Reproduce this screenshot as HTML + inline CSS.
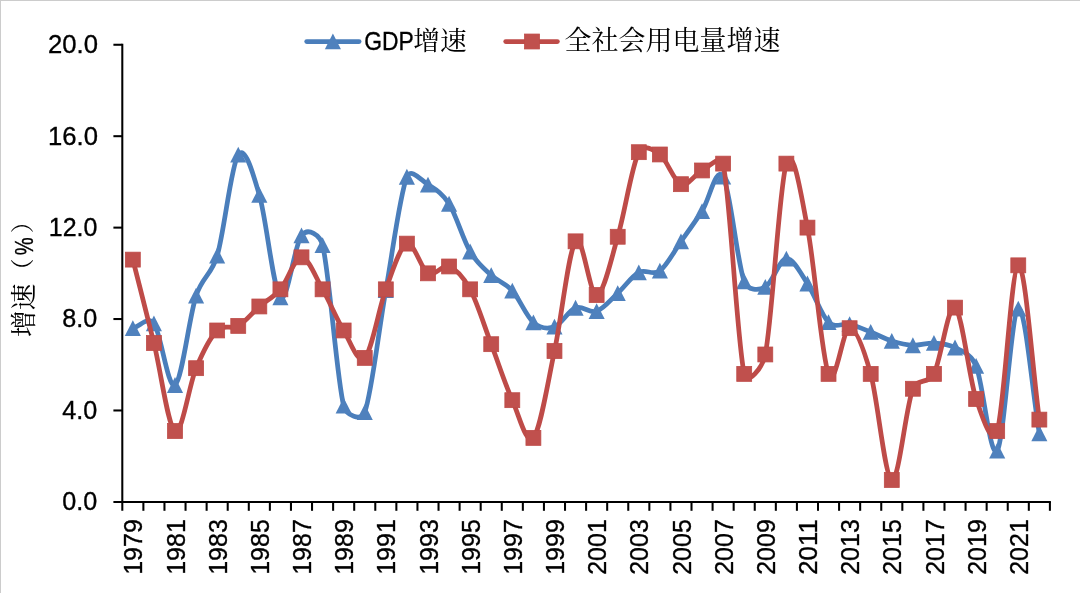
<!DOCTYPE html><html><head><meta charset="utf-8"><title>GDP增速与全社会用电量增速</title>
<style>html,body{margin:0;padding:0;background:#fff;}body{width:1080px;height:593px;overflow:hidden;}svg{display:block;}.lat{font-family:"Liberation Sans","DejaVu Sans",sans-serif;stroke:#000;stroke-width:0.35px;}.cjk{font-family:"Liberation Serif","Noto Serif CJK SC",serif;}</style></head><body>
<svg width="1080" height="593" viewBox="0 0 1080 593">
<rect width="1080" height="593" fill="#fff"/>
<rect x="0" y="0" width="1080" height="1" fill="#ccc"/><rect x="0" y="0" width="1" height="593" fill="#ccc"/>
<g stroke="#000" stroke-width="2.05" fill="none">
<path d="M122.30,43.66 V510.80"/>
<path d="M113.40,502.00 H1050.90"/>
<path d="M113.40,410.47 H122.30"/>
<path d="M113.40,319.04 H122.30"/>
<path d="M113.40,227.62 H122.30"/>
<path d="M113.40,136.19 H122.30"/>
<path d="M113.40,44.76 H122.30"/>
<path d="M143.38,502.00 V510.80"/>
<path d="M164.46,502.00 V510.80"/>
<path d="M185.55,502.00 V510.80"/>
<path d="M206.63,502.00 V510.80"/>
<path d="M227.71,502.00 V510.80"/>
<path d="M248.79,502.00 V510.80"/>
<path d="M269.87,502.00 V510.80"/>
<path d="M290.95,502.00 V510.80"/>
<path d="M312.04,502.00 V510.80"/>
<path d="M333.12,502.00 V510.80"/>
<path d="M354.20,502.00 V510.80"/>
<path d="M375.28,502.00 V510.80"/>
<path d="M396.36,502.00 V510.80"/>
<path d="M417.45,502.00 V510.80"/>
<path d="M438.53,502.00 V510.80"/>
<path d="M459.61,502.00 V510.80"/>
<path d="M480.69,502.00 V510.80"/>
<path d="M501.77,502.00 V510.80"/>
<path d="M522.85,502.00 V510.80"/>
<path d="M543.94,502.00 V510.80"/>
<path d="M565.02,502.00 V510.80"/>
<path d="M586.10,502.00 V510.80"/>
<path d="M607.18,502.00 V510.80"/>
<path d="M628.26,502.00 V510.80"/>
<path d="M649.35,502.00 V510.80"/>
<path d="M670.43,502.00 V510.80"/>
<path d="M691.51,502.00 V510.80"/>
<path d="M712.59,502.00 V510.80"/>
<path d="M733.67,502.00 V510.80"/>
<path d="M754.75,502.00 V510.80"/>
<path d="M775.84,502.00 V510.80"/>
<path d="M796.92,502.00 V510.80"/>
<path d="M818.00,502.00 V510.80"/>
<path d="M839.08,502.00 V510.80"/>
<path d="M860.16,502.00 V510.80"/>
<path d="M881.25,502.00 V510.80"/>
<path d="M902.33,502.00 V510.80"/>
<path d="M923.41,502.00 V510.80"/>
<path d="M944.49,502.00 V510.80"/>
<path d="M965.57,502.00 V510.80"/>
<path d="M986.65,502.00 V510.80"/>
<path d="M1007.74,502.00 V510.80"/>
<path d="M1028.82,502.00 V510.80"/>
<path d="M1049.90,502.00 V510.80"/>
</g>
<text class="lat" x="97.3" y="510.2" font-size="26.2" text-anchor="end" textLength="35.0" lengthAdjust="spacingAndGlyphs">0.0</text>
<text class="lat" x="97.3" y="418.8" font-size="26.2" text-anchor="end" textLength="35.0" lengthAdjust="spacingAndGlyphs">4.0</text>
<text class="lat" x="97.3" y="327.3" font-size="26.2" text-anchor="end" textLength="35.0" lengthAdjust="spacingAndGlyphs">8.0</text>
<text class="lat" x="97.4" y="235.9" font-size="26.2" text-anchor="end" textLength="48.6" lengthAdjust="spacingAndGlyphs">12.0</text>
<text class="lat" x="98.0" y="144.5" font-size="26.2" text-anchor="end" textLength="49.9" lengthAdjust="spacingAndGlyphs">16.0</text>
<text class="lat" x="98.0" y="53.1" font-size="26.2" text-anchor="end" textLength="49.9" lengthAdjust="spacingAndGlyphs">20.0</text>
<text class="lat" transform="translate(142.4,574.8) rotate(-90)" font-size="26.2" textLength="55.6" lengthAdjust="spacingAndGlyphs">1979</text>
<text class="lat" transform="translate(184.6,574.8) rotate(-90)" font-size="26.2" textLength="55.6" lengthAdjust="spacingAndGlyphs">1981</text>
<text class="lat" transform="translate(226.8,574.8) rotate(-90)" font-size="26.2" textLength="55.6" lengthAdjust="spacingAndGlyphs">1983</text>
<text class="lat" transform="translate(268.9,574.8) rotate(-90)" font-size="26.2" textLength="55.6" lengthAdjust="spacingAndGlyphs">1985</text>
<text class="lat" transform="translate(311.1,574.8) rotate(-90)" font-size="26.2" textLength="55.6" lengthAdjust="spacingAndGlyphs">1987</text>
<text class="lat" transform="translate(353.3,574.8) rotate(-90)" font-size="26.2" textLength="55.6" lengthAdjust="spacingAndGlyphs">1989</text>
<text class="lat" transform="translate(395.4,574.8) rotate(-90)" font-size="26.2" textLength="55.6" lengthAdjust="spacingAndGlyphs">1991</text>
<text class="lat" transform="translate(437.6,574.8) rotate(-90)" font-size="26.2" textLength="55.6" lengthAdjust="spacingAndGlyphs">1993</text>
<text class="lat" transform="translate(479.8,574.8) rotate(-90)" font-size="26.2" textLength="55.6" lengthAdjust="spacingAndGlyphs">1995</text>
<text class="lat" transform="translate(521.9,574.8) rotate(-90)" font-size="26.2" textLength="55.6" lengthAdjust="spacingAndGlyphs">1997</text>
<text class="lat" transform="translate(564.1,574.8) rotate(-90)" font-size="26.2" textLength="55.6" lengthAdjust="spacingAndGlyphs">1999</text>
<text class="lat" transform="translate(606.2,574.8) rotate(-90)" font-size="26.2" textLength="55.6" lengthAdjust="spacingAndGlyphs">2001</text>
<text class="lat" transform="translate(648.4,574.8) rotate(-90)" font-size="26.2" textLength="55.6" lengthAdjust="spacingAndGlyphs">2003</text>
<text class="lat" transform="translate(690.6,574.8) rotate(-90)" font-size="26.2" textLength="55.6" lengthAdjust="spacingAndGlyphs">2005</text>
<text class="lat" transform="translate(732.7,574.8) rotate(-90)" font-size="26.2" textLength="55.6" lengthAdjust="spacingAndGlyphs">2007</text>
<text class="lat" transform="translate(774.9,574.8) rotate(-90)" font-size="26.2" textLength="55.6" lengthAdjust="spacingAndGlyphs">2009</text>
<text class="lat" transform="translate(817.1,574.8) rotate(-90)" font-size="26.2" textLength="55.6" lengthAdjust="spacingAndGlyphs">2011</text>
<text class="lat" transform="translate(859.2,574.8) rotate(-90)" font-size="26.2" textLength="55.6" lengthAdjust="spacingAndGlyphs">2013</text>
<text class="lat" transform="translate(901.4,574.8) rotate(-90)" font-size="26.2" textLength="55.6" lengthAdjust="spacingAndGlyphs">2015</text>
<text class="lat" transform="translate(943.6,574.8) rotate(-90)" font-size="26.2" textLength="55.6" lengthAdjust="spacingAndGlyphs">2017</text>
<text class="lat" transform="translate(985.7,574.8) rotate(-90)" font-size="26.2" textLength="55.6" lengthAdjust="spacingAndGlyphs">2019</text>
<text class="lat" transform="translate(1027.9,574.8) rotate(-90)" font-size="26.2" textLength="55.6" lengthAdjust="spacingAndGlyphs">2021</text>
<text class="cjk" transform="translate(33,337.5) rotate(-90)" font-size="26.7"><tspan x="0.5">增速</tspan><tspan x="55.6" dy="-2.0" font-size="23.5">（</tspan><tspan class="lat" font-size="26.2" x="82.2" dy="2.0" textLength="17.9" lengthAdjust="spacingAndGlyphs">%</tspan><tspan x="104.2" dy="-2.0" font-size="23.5">）</tspan></text>
<path d="M132.84,328.19 C139.87,326.59 148.00,315.40 153.92,323.39 C160.95,332.87 167.98,389.71 175.00,385.10 C182.03,380.49 189.06,317.29 196.09,295.73 C202.53,275.95 211.21,275.66 217.17,255.73 C224.20,232.23 231.22,164.84 238.25,154.70 C245.28,144.57 253.41,174.90 259.33,194.93 C266.36,218.70 273.39,290.59 280.41,297.33 C287.44,304.07 294.47,244.07 301.50,235.39 C308.23,227.07 320.01,234.83 322.58,245.22 C329.60,273.60 336.63,377.82 343.66,405.67 C346.15,415.53 361.25,421.85 364.74,412.30 C371.77,393.06 378.80,329.48 385.82,290.24 C392.85,251.01 399.88,194.47 406.90,176.87 C410.74,167.27 420.96,180.15 427.99,184.64 C435.01,189.14 442.08,192.74 449.07,203.84 C456.10,215.01 463.12,239.73 470.15,251.62 C477.18,263.50 484.20,268.64 491.23,275.16 C498.26,281.67 505.29,282.82 512.31,290.70 C519.34,298.59 526.37,316.45 533.40,322.47 C540.42,328.49 547.45,329.25 554.48,326.82 C561.50,324.38 568.53,310.43 575.56,307.84 C582.59,305.25 589.61,313.71 596.64,311.27 C603.67,308.83 610.70,299.69 617.72,293.22 C624.75,286.74 631.78,276.15 638.80,272.42 C645.83,268.68 652.86,275.96 659.89,270.82 C666.91,265.67 673.94,251.50 680.97,241.56 C688.00,231.62 695.02,221.98 702.05,211.16 C709.08,200.34 716.10,164.95 723.13,176.64 C730.16,188.34 737.19,262.93 744.21,281.33 C747.80,290.72 758.27,290.82 765.30,287.04 C772.32,283.27 779.35,259.27 786.38,258.70 C793.40,258.13 800.43,273.03 807.46,283.62 C814.49,294.21 821.51,315.46 828.54,322.24 C835.55,329.01 842.60,322.66 849.62,324.30 C856.65,325.94 863.68,329.29 870.70,332.07 C877.73,334.85 884.76,338.78 891.79,340.99 C898.81,343.20 905.84,344.99 912.87,345.33 C919.90,345.67 926.92,342.66 933.95,343.04 C940.98,343.42 948.00,343.81 955.03,347.62 C962.06,351.42 971.25,354.02 976.11,365.90 C983.14,383.08 990.17,460.22 997.20,450.70 C1004.22,441.18 1011.25,311.62 1018.28,308.76 C1025.30,305.90 1032.33,391.96 1039.36,433.56" fill="none" stroke="#4a7ebb" stroke-width="4.75" stroke-linecap="round" stroke-linejoin="round"/>
<g fill="#4f81bd"><path d="M132.84,320.19 L140.89,335.99 L124.79,335.99 Z"/><path d="M153.92,315.39 L161.97,331.19 L145.87,331.19 Z"/><path d="M175.00,377.10 L183.05,392.90 L166.95,392.90 Z"/><path d="M196.09,287.73 L204.14,303.53 L188.04,303.53 Z"/><path d="M217.17,247.73 L225.22,263.53 L209.12,263.53 Z"/><path d="M238.25,146.70 L246.30,162.50 L230.20,162.50 Z"/><path d="M259.33,186.93 L267.38,202.73 L251.28,202.73 Z"/><path d="M280.41,289.33 L288.46,305.13 L272.36,305.13 Z"/><path d="M301.50,227.39 L309.55,243.19 L293.45,243.19 Z"/><path d="M322.58,237.22 L330.63,253.02 L314.53,253.02 Z"/><path d="M343.66,397.67 L351.71,413.47 L335.61,413.47 Z"/><path d="M364.74,404.30 L372.79,420.10 L356.69,420.10 Z"/><path d="M385.82,282.24 L393.87,298.04 L377.77,298.04 Z"/><path d="M406.90,168.87 L414.95,184.67 L398.85,184.67 Z"/><path d="M427.99,176.64 L436.04,192.44 L419.94,192.44 Z"/><path d="M449.07,195.84 L457.12,211.64 L441.02,211.64 Z"/><path d="M470.15,243.62 L478.20,259.42 L462.10,259.42 Z"/><path d="M491.23,267.16 L499.28,282.96 L483.18,282.96 Z"/><path d="M512.31,282.70 L520.36,298.50 L504.26,298.50 Z"/><path d="M533.40,314.47 L541.45,330.27 L525.35,330.27 Z"/><path d="M554.48,318.82 L562.53,334.62 L546.43,334.62 Z"/><path d="M575.56,299.84 L583.61,315.64 L567.51,315.64 Z"/><path d="M596.64,303.27 L604.69,319.07 L588.59,319.07 Z"/><path d="M617.72,285.22 L625.77,301.02 L609.67,301.02 Z"/><path d="M638.80,264.42 L646.85,280.22 L630.75,280.22 Z"/><path d="M659.89,262.82 L667.94,278.62 L651.84,278.62 Z"/><path d="M680.97,233.56 L689.02,249.36 L672.92,249.36 Z"/><path d="M702.05,203.16 L710.10,218.96 L694.00,218.96 Z"/><path d="M723.13,168.64 L731.18,184.44 L715.08,184.44 Z"/><path d="M744.21,273.33 L752.26,289.13 L736.16,289.13 Z"/><path d="M765.30,279.04 L773.35,294.84 L757.25,294.84 Z"/><path d="M786.38,250.70 L794.43,266.50 L778.33,266.50 Z"/><path d="M807.46,275.62 L815.51,291.42 L799.41,291.42 Z"/><path d="M828.54,314.24 L836.59,330.04 L820.49,330.04 Z"/><path d="M849.62,316.30 L857.67,332.10 L841.57,332.10 Z"/><path d="M870.70,324.07 L878.75,339.87 L862.65,339.87 Z"/><path d="M891.79,332.99 L899.84,348.79 L883.74,348.79 Z"/><path d="M912.87,337.33 L920.92,353.13 L904.82,353.13 Z"/><path d="M933.95,335.04 L942.00,350.84 L925.90,350.84 Z"/><path d="M955.03,339.62 L963.08,355.42 L946.98,355.42 Z"/><path d="M976.11,357.90 L984.16,373.70 L968.06,373.70 Z"/><path d="M997.20,442.70 L1005.25,458.50 L989.15,458.50 Z"/><path d="M1018.28,300.76 L1026.33,316.56 L1010.23,316.56 Z"/><path d="M1039.36,425.56 L1047.41,441.36 L1031.31,441.36 Z"/></g>
<path d="M132.84,259.62 C139.87,287.43 146.90,314.47 153.92,343.04 C160.95,371.62 167.98,426.85 175.00,431.04 C182.03,435.23 189.06,384.95 196.09,368.19 C203.11,351.42 210.14,337.52 217.17,330.47 C224.17,323.45 231.22,329.90 238.25,325.90 C245.28,321.90 252.30,312.57 259.33,306.47 C266.36,300.38 273.39,297.52 280.41,289.33 C287.44,281.14 294.47,257.33 301.50,257.33 C308.52,257.33 315.55,277.14 322.58,289.33 C329.60,301.52 336.63,319.04 343.66,330.47 C350.69,341.90 357.71,364.76 364.74,357.90 C371.77,351.04 378.80,308.38 385.82,289.33 C392.85,270.28 399.88,246.28 406.90,243.62 C413.93,240.95 420.96,269.52 427.99,273.33 C435.01,277.14 442.04,263.81 449.07,266.47 C456.10,269.14 463.33,276.76 470.15,289.33 C477.18,302.28 484.20,325.71 491.23,344.19 C498.26,362.66 505.29,384.57 512.31,400.19 C519.34,415.81 526.37,446.09 533.40,437.90 C540.42,429.71 547.45,383.81 554.48,351.04 C561.50,318.28 568.53,250.66 575.56,241.33 C582.59,232.00 589.61,295.81 596.64,295.04 C603.67,294.28 610.70,260.57 617.72,236.76 C624.75,212.95 631.78,165.90 638.80,152.19 C643.25,143.51 652.86,149.14 659.89,154.47 C666.91,159.81 673.94,181.52 680.97,184.19 C688.00,186.85 695.02,173.90 702.05,170.47 C709.08,167.04 721.06,153.63 723.13,163.62 C730.16,197.52 737.19,342.09 744.21,373.90 C747.06,386.78 762.70,367.40 765.30,354.47 C772.32,319.42 779.35,184.76 786.38,163.62 C793.40,142.47 801.37,197.22 807.46,227.62 C814.49,262.66 821.51,357.14 828.54,373.90 C835.57,390.66 842.60,328.19 849.62,328.19 C856.65,328.19 864.51,351.59 870.70,373.90 C877.73,399.20 884.76,477.48 891.79,479.96 C898.81,482.43 905.84,406.43 912.87,388.76 C917.25,377.73 928.48,384.43 933.95,373.90 C940.98,360.38 948.00,303.43 955.03,307.62 C962.06,311.81 969.09,378.47 976.11,399.04 C981.81,415.72 991.89,447.85 997.20,431.04 C1004.22,408.76 1011.25,267.23 1018.28,265.33 C1025.30,263.43 1032.33,368.19 1039.36,419.61" fill="none" stroke="#be4b48" stroke-width="4.75" stroke-linecap="round" stroke-linejoin="round"/>
<g fill="#c0504d" stroke="#be4b48" stroke-width="0.8"><rect x="125.39" y="252.17" width="14.90" height="14.90"/><rect x="146.47" y="335.59" width="14.90" height="14.90"/><rect x="167.55" y="423.59" width="14.90" height="14.90"/><rect x="188.64" y="360.74" width="14.90" height="14.90"/><rect x="209.72" y="323.02" width="14.90" height="14.90"/><rect x="230.80" y="318.45" width="14.90" height="14.90"/><rect x="251.88" y="299.02" width="14.90" height="14.90"/><rect x="272.96" y="281.88" width="14.90" height="14.90"/><rect x="294.05" y="249.88" width="14.90" height="14.90"/><rect x="315.13" y="281.88" width="14.90" height="14.90"/><rect x="336.21" y="323.02" width="14.90" height="14.90"/><rect x="357.29" y="350.45" width="14.90" height="14.90"/><rect x="378.37" y="281.88" width="14.90" height="14.90"/><rect x="399.45" y="236.17" width="14.90" height="14.90"/><rect x="420.54" y="265.88" width="14.90" height="14.90"/><rect x="441.62" y="259.02" width="14.90" height="14.90"/><rect x="462.70" y="281.88" width="14.90" height="14.90"/><rect x="483.78" y="336.74" width="14.90" height="14.90"/><rect x="504.86" y="392.74" width="14.90" height="14.90"/><rect x="525.95" y="430.45" width="14.90" height="14.90"/><rect x="547.03" y="343.59" width="14.90" height="14.90"/><rect x="568.11" y="233.88" width="14.90" height="14.90"/><rect x="589.19" y="287.59" width="14.90" height="14.90"/><rect x="610.27" y="229.31" width="14.90" height="14.90"/><rect x="631.35" y="144.74" width="14.90" height="14.90"/><rect x="652.44" y="147.02" width="14.90" height="14.90"/><rect x="673.52" y="176.74" width="14.90" height="14.90"/><rect x="694.60" y="163.02" width="14.90" height="14.90"/><rect x="715.68" y="156.17" width="14.90" height="14.90"/><rect x="736.76" y="366.45" width="14.90" height="14.90"/><rect x="757.85" y="347.02" width="14.90" height="14.90"/><rect x="778.93" y="156.17" width="14.90" height="14.90"/><rect x="800.01" y="220.17" width="14.90" height="14.90"/><rect x="821.09" y="366.45" width="14.90" height="14.90"/><rect x="842.17" y="320.74" width="14.90" height="14.90"/><rect x="863.25" y="366.45" width="14.90" height="14.90"/><rect x="884.34" y="472.51" width="14.90" height="14.90"/><rect x="905.42" y="381.31" width="14.90" height="14.90"/><rect x="926.50" y="366.45" width="14.90" height="14.90"/><rect x="947.58" y="300.17" width="14.90" height="14.90"/><rect x="968.66" y="391.59" width="14.90" height="14.90"/><rect x="989.75" y="423.59" width="14.90" height="14.90"/><rect x="1010.83" y="257.88" width="14.90" height="14.90"/><rect x="1031.91" y="412.16" width="14.90" height="14.90"/></g>
<path d="M306.7,41.5 H359.1" stroke="#4a7ebb" stroke-width="4.75" stroke-linecap="round"/>
<g fill="#4f81bd"><path d="M332.90,33.50 L340.95,49.30 L324.85,49.30 Z"/></g>
<path d="M505.7,41.5 H557.4" stroke="#be4b48" stroke-width="4.75" stroke-linecap="round"/>
<g fill="#c0504d" stroke="#be4b48" stroke-width="0.8"><rect x="524.55" y="34.05" width="14.90" height="14.90"/></g>
<text class="lat" x="364.3" y="49.6" font-size="26.3" textLength="49.6" lengthAdjust="spacingAndGlyphs">GDP</text>
<text class="cjk" x="413.3" y="50.3" font-size="26.7">增速</text>
<text class="cjk" x="564.4" y="50.3" font-size="27.0">全社会用电量增速</text>
</svg></body></html>
